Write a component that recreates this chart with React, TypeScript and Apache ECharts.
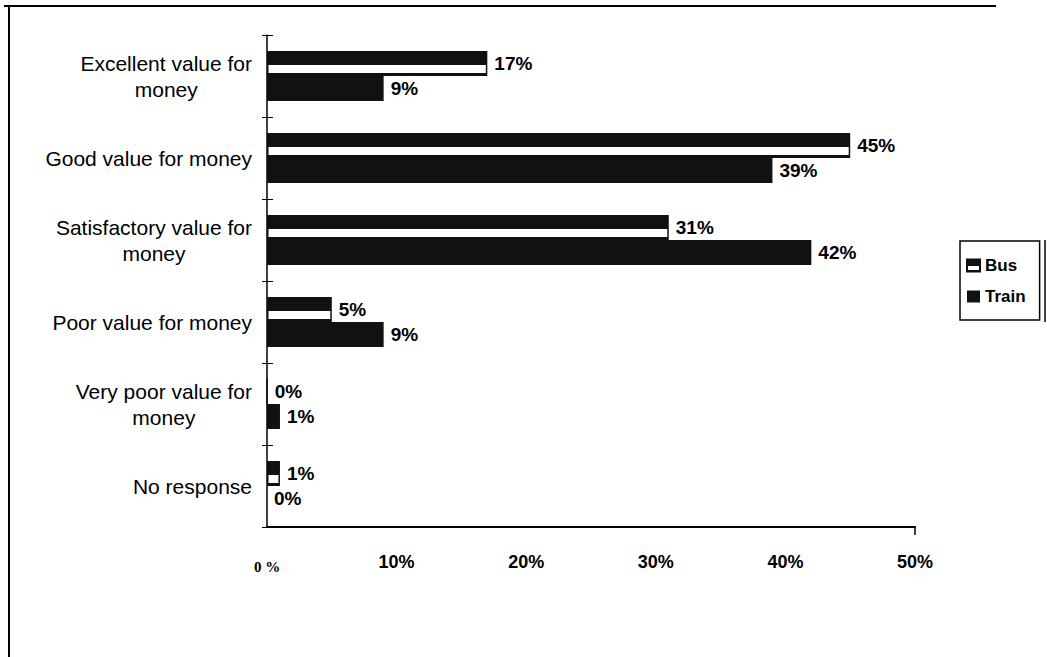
import React, { useEffect, useRef } from "react";
import * as echarts from "echarts";

const categories = [
  "Excellent value for\nmoney",
  "Good value for money",
  "Satisfactory value for\nmoney",
  "Poor value for money",
  "Very poor value for\nmoney",
  "No response",
];
const busValues = [17, 45, 31, 5, 0, 1];
const trainValues = [9, 39, 42, 9, 1, 0];
const seriesNames = ["Bus", "Train"];
const xTicks = [0, 10, 20, 30, 40, 50];

const FONT = "'Liberation Sans', Arial, sans-serif";
const DARK = "#111";

const busFill = new echarts.graphic.LinearGradient(0, 0, 0, 1, [
  { offset: 0, color: DARK },
  { offset: 0.55, color: DARK },
  { offset: 0.56, color: "#fff" },
  { offset: 0.9, color: "#fff" },
  { offset: 0.91, color: DARK },
  { offset: 1, color: DARK },
]);

export default function App() {
  const ref = useRef<HTMLDivElement>(null);
  useEffect(() => {
    if (!ref.current) return;
    const chart = echarts.init(ref.current, null, { renderer: "svg" });
    const labelCfg = {
      show: true,
      position: "right",
      distance: 7,
      formatter: "{c}%",
      color: "#000",
      fontFamily: FONT,
      fontWeight: "bold",
      fontSize: 19,
    };
    chart.setOption({
      animation: false,
      backgroundColor: "#fff",
      grid: { left: 267, right: 132, top: 35, bottom: 130, containLabel: false },
      legend: {
        orient: "vertical",
        left: 960,
        top: 241,
        padding: [16, 14, 15, 6],
        itemWidth: 13,
        itemHeight: 12,
        itemGap: 14,
        borderColor: "#000",
        borderWidth: 1.5,
        backgroundColor: "#fff",
        textStyle: { color: "#000", fontFamily: FONT, fontWeight: "bold", fontSize: 17 },
        data: [
          { name: seriesNames[0], icon: "rect", itemStyle: { color: busFill, borderColor: DARK, borderWidth: 2 } },
          { name: seriesNames[1], icon: "rect", itemStyle: { color: DARK } },
        ],
      },
      xAxis: {
        type: "value",
        min: xTicks[0],
        max: xTicks[xTicks.length - 1],
        interval: 10,
        splitLine: { show: false },
        axisLine: { show: true, lineStyle: { color: "#000", width: 2 } },
        axisTick: { show: true, customValues: [50], length: 8, lineStyle: { color: "#000", width: 1.5 } },
        axisLabel: {
          margin: 26,
          color: "#000",
          fontFamily: FONT,
          fontWeight: "bold",
          fontSize: 18,
          formatter: (v: number) => (v === 0 ? "{z|0 %}" : v + "%"),
          rich: {
            z: { fontFamily: "'Liberation Serif', 'Times New Roman', serif", fontWeight: "bold", fontSize: 15, color: "#000", padding: [6, 0, 0, 0] },
          },
        },
      },
      yAxis: [
        {
          type: "category",
          data: categories,
          inverse: true,
          axisLine: { show: true, lineStyle: { color: "#000", width: 1.5 } },
          axisTick: { show: true, length: 5, lineStyle: { color: "#000", width: 1 } },
          axisLabel: {
            margin: 15,
            color: "#000",
            fontFamily: FONT,
            fontSize: 21,
            align: "right",
            lineHeight: 26,
            formatter: (s: string) => s.split("\n").map((l) => "{c|" + l + "}").join("\n"),
            rich: { c: { align: "center", fontFamily: FONT, fontSize: 21, color: "#000", lineHeight: 26 } },
          },
        },
        {
          type: "category",
          data: categories,
          inverse: true,
          position: "left",
          axisLine: { show: false },
          axisTick: { show: true, inside: true, length: 6, lineStyle: { color: "#000", width: 1 } },
          axisLabel: { show: false },
        },
      ],
      series: [
        {
          name: seriesNames[0],
          type: "bar",
          data: busValues,
          barWidth: 25,
          barGap: "0%",
          itemStyle: { color: busFill, borderColor: DARK, borderWidth: 1.5 },
          label: labelCfg,
        },
        {
          name: seriesNames[1],
          type: "bar",
          data: trainValues,
          barWidth: 25,
          barGap: "0%",
          itemStyle: { color: DARK },
          label: labelCfg,
        },
      ],
      graphic: [
        { type: "line", shape: { x1: 4, y1: 6, x2: 996, y2: 6 }, style: { stroke: "#000", lineWidth: 2 } },
        { type: "line", shape: { x1: 9, y1: 6, x2: 9, y2: 657 }, style: { stroke: "#000", lineWidth: 2 } },
        { type: "line", shape: { x1: 1045, y1: 240, x2: 1045, y2: 322 }, style: { stroke: "#000", lineWidth: 1.5 } },
      ],
    });
    return () => chart.dispose();
  }, []);
  return (
    <div
      ref={ref}
      style={{ position: "fixed", left: 0, top: 0, width: 1047, height: 657, background: "#fff" }}
    />
  );
}
